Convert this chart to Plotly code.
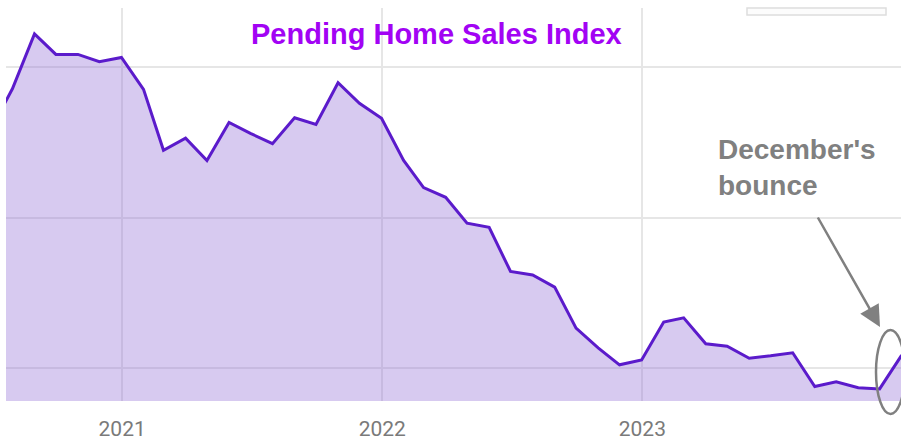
import pandas as pd
import plotly.graph_objects as go

# Monthly Pending Home Sales Index (plotted at month end)
months = pd.date_range("2020-06-30", periods=43, freq="ME")
index_values = [
    114.5, 121.4, 130.5, 127.1, 127.1, 125.9, 126.6,              # Jun-Dec 2020
    121.3, 111.2, 113.2, 109.5, 115.8, 114.0, 112.3, 116.6, 115.5, 122.4, 119.0, 116.5,  # 2021
    109.5, 105.0, 103.4, 99.1, 98.4, 91.1, 90.5, 88.5, 81.7, 78.4, 75.6, 76.4,            # 2022
    82.7, 83.4, 79.1, 78.7, 76.7, 77.1, 77.6, 72.0, 72.8, 71.8, 71.6, 77.2,               # 2023
]
tick_dates = ["2021-01-01", "2022-01-01", "2023-01-01"]
tick_labels = ["2021", "2022", "2023"]
title_text = "Pending Home Sales Index"
note_text = "December's<br>bounce"

W, H = 901, 442
L, R, T, B = 6, 0, 8, 41
pw, ph = W - L - R, H - T - B


def px(x):
    return (x - L) / pw


def py(y):
    return (H - B - y) / ph


fig = go.Figure()
fig.add_trace(go.Scatter(
    x=months, y=index_values, mode="lines",
    line=dict(color="#5B1BCB", width=3),
    fill="tozeroy", fillcolor="rgba(150,115,215,0.38)",
    hoverinfo="skip", showlegend=False,
))

fig.update_layout(
    width=W, height=H,
    margin=dict(l=L, r=R, t=T, b=B, pad=0),
    paper_bgcolor="white", plot_bgcolor="white",
    xaxis=dict(
        range=["2020-07-22", "2023-12-30"],
        tickvals=tick_dates, ticktext=tick_labels,
        showgrid=True, gridcolor="#E6E6E6", gridwidth=2,
        zeroline=False, showline=False, ticks="",
        tickfont=dict(family="Liberation Sans Narrow, Roboto, sans-serif", size=21, color="#7A7A7A"),
        ticklabelstandoff=13,
    ),
    yaxis=dict(
        range=[69.6, 134.8], dtick=25, tick0=0,
        showgrid=True, gridcolor="#E6E6E6", gridwidth=2,
        zeroline=False, showline=False, showticklabels=False, ticks="",
    ),
    shapes=[
        dict(type="rect", xref="paper", yref="paper",
             x0=px(747), x1=px(886), y0=py(15), y1=py(8),
             line=dict(color="#DDDDDD", width=1.5), fillcolor="#FCFCFC"),
        dict(type="circle", xref="paper", yref="paper",
             x0=px(876), x1=px(905), y0=py(414), y1=py(330),
             line=dict(color="#808080", width=2.5)),
    ],
    annotations=[
        dict(text=title_text, xref="paper", yref="paper",
             x=px(436.5), y=py(34), xanchor="center", yanchor="middle",
             showarrow=False,
             font=dict(family="Liberation Sans, Arial, sans-serif", size=29, color="#A203F4", weight="bold")),
        dict(text=note_text, xref="paper", yref="paper",
             x=px(716), y=py(132), xanchor="left", yanchor="top", align="left",
             showarrow=False,
             font=dict(family="Liberation Sans, Arial, sans-serif", size=28, color="#808080", weight="bold")),
        dict(text="", xref="paper", yref="paper",
             x=px(880), y=py(327), ax=817 - 880, ay=216 - 327,
             showarrow=True, arrowhead=2, arrowsize=1.7, arrowwidth=2.5,
             arrowcolor="#808080", standoff=0, startstandoff=0),
    ],
)

fig.write_html("out.html")
